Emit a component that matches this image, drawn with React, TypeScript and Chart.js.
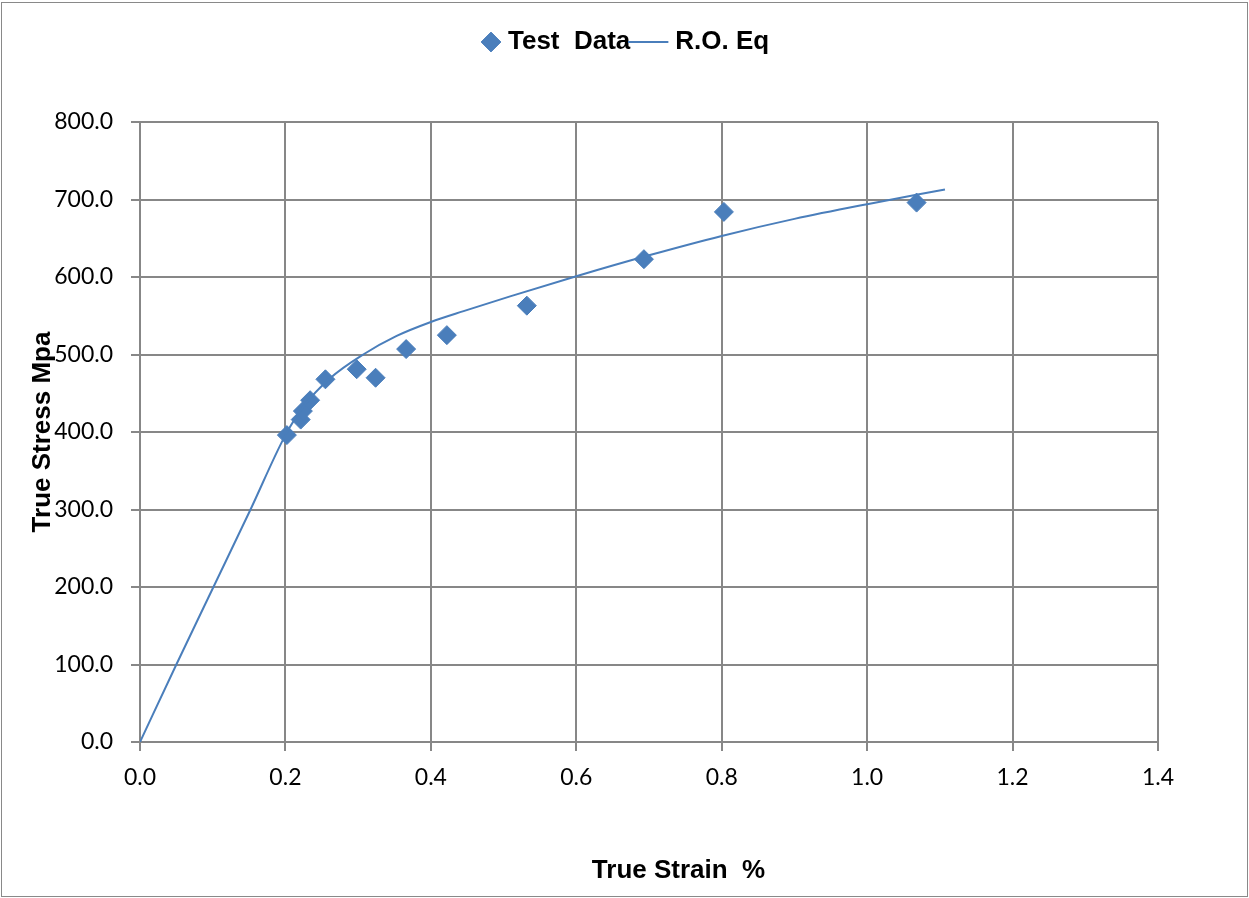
import React, { useEffect, useRef } from 'react';
import { Chart, registerables } from 'chart.js';

Chart.register(...registerables);

// ---- data ----
const testStrain = [0.202, 0.221, 0.224, 0.234, 0.255, 0.298, 0.324, 0.366, 0.422, 0.532, 0.693, 0.803, 1.068];
const testStress = [396, 416, 427, 441, 468, 481, 470, 507, 525, 563, 623, 684, 696];

const roStrain = [0, 0.05, 0.101, 0.152, 0.2, 0.225, 0.261, 0.307, 0.353, 0.4, 0.445, 0.509, 0.6, 0.7, 0.8, 0.9, 1.0, 1.107];
const roStress = [0, 100, 200, 300, 396, 433, 469, 500, 524, 542, 556, 575, 601, 628, 653, 675, 694, 713];

const xTickValues = [0, 0.2, 0.4, 0.6, 0.8, 1.0, 1.2, 1.4];
const yTickValues = [0, 100, 200, 300, 400, 500, 600, 700, 800];

const seriesNames = ['Test  Data', 'R.O. Eq'];
const xTitle = 'True Strain  %';
const yTitle = 'True Stress Mpa';

// ---- styles ----
const BLUE = '#4A7EBB';
const GRID = '#878787';
const TICK_FONT = { family: 'Lato, "Open Sans", sans-serif', size: 23 };
const BOLD_FONT_FAMILY = '"Liberation Sans", Arial, sans-serif';
const LEGEND_HEIGHT = 117;
const LEGEND_START_X = 485;

function makeLineImage(): HTMLCanvasElement {
  const c = document.createElement('canvas');
  c.width = 60;
  c.height = 2;
  const g = c.getContext('2d')!;
  g.fillStyle = BLUE;
  g.fillRect(0, 0, 40, 2);
  return c;
}

const tweaks = {
  id: 'tweaks',
  beforeLayout(chart: any) {
    const lg = chart.legend;
    if (lg && !lg.__patched) {
      const fit = lg.fit.bind(lg);
      lg.fit = function () {
        fit();
        this.height = LEGEND_HEIGHT;
      };
      lg.__patched = true;
    }
  },
  afterLayout(chart: any) {
    const lg = chart.legend;
    if (!lg || !lg.lineWidths) return;
    const P = lg.options.labels.padding;
    const natural = (lg.left + P + lg.right - lg.lineWidths[0]) / 2;
    const dx = LEGEND_START_X - natural;
    lg.left += dx;
    lg.right += dx;
  },
  afterDraw(chart: any) {
    const { ctx, chartArea } = chart;
    ctx.save();
    ctx.font = `bold 26px ${BOLD_FONT_FAMILY}`;
    ctx.fillStyle = '#000';
    ctx.textAlign = 'center';
    ctx.textBaseline = 'alphabetic';
    ctx.fillText(xTitle, (chartArea.left + chartArea.right) / 2 + 29.5, chartArea.bottom + 136);
    ctx.restore();
  },
};

export default function App() {
  const ref = useRef<HTMLCanvasElement>(null);

  useEffect(() => {
    if (!ref.current) return;
    const lineImg = makeLineImage();
    const testPoints = testStrain.map((x, i) => ({ x, y: testStress[i] }));
    const roPoints = roStrain.map((x, i) => ({ x, y: roStress[i] }));

    const chart = new Chart(ref.current, {
      type: 'scatter',
      data: {
        datasets: [
          {
            label: seriesNames[0],
            data: testPoints,
            pointStyle: 'rectRot',
            pointRadius: 9.5,
            pointHoverRadius: 9.5,
            backgroundColor: BLUE,
            borderColor: BLUE,
            borderWidth: 1,
            order: 1,
          },
          {
            label: seriesNames[1],
            data: roPoints,
            showLine: true,
            pointRadius: 0,
            pointHoverRadius: 0,
            borderColor: BLUE,
            backgroundColor: BLUE,
            borderWidth: 2,
            fill: false,
            cubicInterpolationMode: 'monotone',
            order: 0,
          } as any,
        ],
      },
      options: {
        responsive: true,
        maintainAspectRatio: false,
        animation: false,
        layout: { padding: { top: 2, right: 89, bottom: 0, left: 0 } },
        plugins: {
          tooltip: { enabled: false },
          title: { display: false },
          legend: {
            display: true,
            position: 'top',
            fullSize: false,
            labels: {
              usePointStyle: true,
              boxWidth: 8,
              boxHeight: 14,
              padding: 24,
              color: '#000',
              font: { family: BOLD_FONT_FAMILY, size: 26, weight: 'bold' },
              generateLabels(c: any) {
                const items = (Chart.defaults.plugins.legend.labels as any).generateLabels(c);
                items.sort((a: any, b: any) => a.datasetIndex - b.datasetIndex);
                items.forEach((it: any) => {
                  it.pointStyle = it.datasetIndex === 1 ? lineImg : 'rectRot';
                });
                return items;
              },
            },
          } as any,
        },
        scales: {
          x: {
            type: 'linear',
            min: xTickValues[0],
            max: xTickValues[xTickValues.length - 1],
            afterBuildTicks(s: any) {
              s.ticks = xTickValues.map((v) => ({ value: v }));
            },
            afterFit(s: any) {
              s.height = 154;
            },
            ticks: {
              font: TICK_FONT,
              color: '#000',
              padding: 13,
              maxRotation: 0,
              autoSkip: false,
              callback: (v: any) => Number(v).toFixed(1),
            },
            grid: { color: GRID, lineWidth: 2, tickLength: 9, drawTicks: true },
            border: { display: true, color: GRID, width: 2 },
            title: { display: false },
          },
          y: {
            type: 'linear',
            min: yTickValues[0],
            max: yTickValues[yTickValues.length - 1],
            afterBuildTicks(s: any) {
              s.ticks = yTickValues.map((v) => ({ value: v }));
            },
            afterFit(s: any) {
              s.width = 138;
            },
            ticks: {
              font: TICK_FONT,
              color: '#000',
              padding: 18,
              autoSkip: false,
              callback: (v: any) => Number(v).toFixed(1),
            },
            grid: { color: GRID, lineWidth: 2, tickLength: 9, drawTicks: true },
            border: { display: true, color: GRID, width: 2 },
            title: {
              display: true,
              text: yTitle,
              color: '#000',
              font: { family: BOLD_FONT_FAMILY, size: 26, weight: 'bold' },
              padding: { top: 25, bottom: 0 },
            },
          },
        },
      },
      plugins: [tweaks],
    });
    return () => chart.destroy();
  }, []);

  return (
    <div
      style={{
        position: 'absolute',
        left: 1,
        top: 2,
        width: 1247,
        height: 895,
        boxSizing: 'border-box',
        border: '1px solid #898989',
        background: '#fff',
      }}
    >
      <div style={{ position: 'relative', width: 1245, height: 893 }}>
        <canvas ref={ref} />
      </div>
    </div>
  );
}
